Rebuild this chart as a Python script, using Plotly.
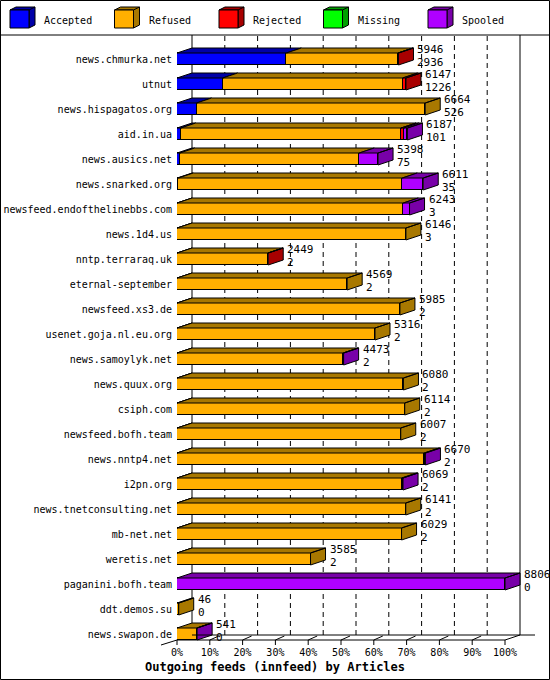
import plotly.graph_objects as go

# ---- data ----
hosts = [
    "news.chmurka.net", "utnut", "news.hispagatos.org", "aid.in.ua",
    "news.ausics.net", "news.snarked.org", "newsfeed.endofthelinebbs.com",
    "news.1d4.us", "nntp.terraraq.uk", "eternal-september", "newsfeed.xs3.de",
    "usenet.goja.nl.eu.org", "news.samoylyk.net", "news.quux.org", "csiph.com",
    "newsfeed.bofh.team", "news.nntp4.net", "i2pn.org", "news.tnetconsulting.net",
    "mb-net.net", "weretis.net", "paganini.bofh.team", "ddt.demos.su",
    "news.swapon.de",
]
offered = [5946, 6147, 6664, 6187, 5398, 6611, 6243, 6146, 2449, 4569, 5985, 5316,
           4473, 6080, 6114, 6007, 6670, 6069, 6141, 6029, 3585, 8806, 46, 541]
accepted = [2936, 1226, 526, 101, 75, 35, 3, 3, 2, 2, 2, 2,
            2, 2, 2, 2, 2, 2, 2, 2, 2, 0, 0, 0]
refused = [2995, 4831, 6138, 5912, 4819, 6014, 6073, 6143, 2437, 4567, 5983, 5314,
           4461, 6078, 6112, 6005, 6638, 6032, 6139, 6027, 3583, 0, 46, 529]
rejected = [15, 90, 0, 75, 0, 0, 0, 0, 10, 0, 0, 0,
            0, 0, 0, 0, 0, 0, 0, 0, 0, 0, 0, 0]
missing = [0, 0, 0, 0, 0, 0, 0, 0, 0, 0, 0, 0,
           0, 0, 0, 0, 0, 0, 0, 0, 0, 0, 0, 0]
spooled = [0, 0, 0, 99, 504, 562, 167, 0, 0, 0, 0, 0,
           10, 0, 0, 0, 30, 35, 0, 0, 0, 8806, 0, 12]

series_names = ["Accepted", "Refused", "Rejected", "Missing", "Spooled"]
series_values = [accepted, refused, rejected, missing, spooled]
face_colors = ["#0000FF", "#FFAF00", "#FF0000", "#00FF00", "#AF00FF"]
shade_colors = ["#0000A8", "#A87800", "#A80000", "#00A000", "#7800A8"]

pct_ticks = [0, 10, 20, 30, 40, 50, 60, 70, 80, 90, 100]

# ---- geometry ----
W, H = 550, 680
L, R, T, B = 177, 25, 35, 35
FULL_PX = 328          # pixel length of the 100% bar
DEPTH_X, DEPTH_Y = 15, 5
ROW_PX = 25
FIRST_ROW_PX = 59
FONT = "DejaVu Sans Mono"

n = len(hosts)
vmax = max(offered)
k = FULL_PX / vmax                     # px per article
plot_w = W - L - R
plot_h = H - T - B
dx = DEPTH_X / k                       # depth in data units
dy = DEPTH_Y / ROW_PX                  # depth in row units
bw = 12 / ROW_PX
h = bw / 2
rows = list(range(n))


def px(x):
    return (x - L) / plot_w


def py(y):
    return (H - B - y) / plot_h


fig = go.Figure()

# front faces
for name, vals, col in zip(series_names, series_values, face_colors):
    fig.add_trace(go.Bar(
        y=rows, x=[v if v > 0 else None for v in vals], orientation="h",
        width=bw, name=name, marker=dict(color=col, line=dict(color="black", width=1)),
        hoverinfo="skip",
    ))

# top and side faces
tops = {c: ([], []) for c in shade_colors}
for i in rows:
    cum = 0
    last = None
    for vals, sh in zip(series_values, shade_colors):
        v = vals[i]
        if v <= 0:
            continue
        xs, ys = tops[sh]
        xs += [cum, cum + v, cum + v + dx, cum + dx, cum, None]
        ys += [i - h, i - h, i - h - dy, i - h - dy, i - h, None]
        cum += v
        last = sh
    xs, ys = tops[last]
    xs += [cum, cum, cum + dx, cum + dx, cum, None]
    ys += [i - h, i + h, i + h - dy, i - h - dy, i - h, None]

for sh, (xs, ys) in tops.items():
    if xs:
        fig.add_trace(go.Scatter(
            x=xs, y=ys, mode="lines", fill="toself", fillcolor=sh,
            line=dict(color="black", width=1), hoverinfo="skip", showlegend=False,
        ))

# value labels
for i in rows:
    xl = offered[i] + dx
    fig.add_annotation(x=xl, y=i - 9.5 / ROW_PX, text=str(offered[i]), showarrow=False, xshift=2,
                       xanchor="left", yanchor="middle", font=dict(family=FONT, size=11, color="black"))
    fig.add_annotation(x=xl, y=i + 3 / ROW_PX, text=str(accepted[i]), showarrow=False, xshift=2,
                       xanchor="left", yanchor="middle", font=dict(family=FONT, size=11, color="black"))

shapes = []
line_k = dict(color="black", width=1)
floor_front = FIRST_ROW_PX + (n - 1) * ROW_PX + 6
floor_back = floor_front - DEPTH_Y

# back grid
for p in pct_ticks:
    xb = L + p / 100 * FULL_PX + DEPTH_X
    dash = "solid" if p in (0, 100) else "5px,4px"
    shapes.append(dict(type="line", xref="paper", yref="paper", x0=px(xb), x1=px(xb),
                       y0=py(floor_back), y1=py(T), line=dict(color="black", width=1, dash=dash),
                       layer="below"))
# floor
shapes.append(dict(type="line", xref="paper", yref="paper", x0=px(L + DEPTH_X), x1=px(L + FULL_PX + DEPTH_X + 15),
                   y0=py(floor_back), y1=py(floor_back), line=line_k))
shapes.append(dict(type="line", xref="paper", yref="paper", x0=px(L), x1=px(L + FULL_PX),
                   y0=py(floor_front), y1=py(floor_front), line=line_k))
shapes.append(dict(type="line", xref="paper", yref="paper", x0=px(L - 16), x1=px(L),
                   y0=py(floor_front + 5), y1=py(floor_front), line=line_k))
shapes.append(dict(type="line", xref="paper", yref="paper", x0=px(L + FULL_PX), x1=px(L + FULL_PX + DEPTH_X),
                   y0=py(floor_front), y1=py(floor_back), line=line_k))
for p in pct_ticks:
    xf = L + p / 100 * FULL_PX
    shapes.append(dict(type="line", xref="paper", yref="paper", x0=px(xf), x1=px(xf),
                       y0=py(floor_front), y1=py(floor_front + 5), line=line_k))
    if 0 < p < 100:
        shapes.append(dict(type="line", xref="paper", yref="paper", x0=px(xf), x1=px(xf + 9),
                           y0=py(floor_front), y1=py(floor_front - 4), line=line_k))

# legend (3D boxes)
for j, (name, col, sh) in enumerate(zip(series_names, face_colors, shade_colors)):
    x0 = 10 + 104.5 * j
    shapes.append(dict(type="path", xref="paper", yref="paper",
                       path=f"M {px(x0)},{py(10)} L {px(x0 + 6)},{py(7)} L {px(x0 + 25)},{py(7)} "
                            f"L {px(x0 + 25)},{py(25)} L {px(x0 + 19)},{py(28)} L {px(x0 + 19)},{py(10)} Z",
                       fillcolor=sh, line=dict(color="black", width=1)))
    shapes.append(dict(type="rect", xref="paper", yref="paper", x0=px(x0), x1=px(x0 + 19),
                       y0=py(28), y1=py(10), fillcolor=col, line=dict(color="black", width=1)))
    shapes.append(dict(type="line", xref="paper", yref="paper", x0=px(x0 + 19), x1=px(x0 + 25),
                       y0=py(10), y1=py(7), line=line_k))
    fig.add_annotation(xref="paper", yref="paper", x=px(x0 + 32), y=py(20), text=name,
                       showarrow=False, xanchor="left", yanchor="middle",
                       font=dict(family=FONT, size=10, color="black"))

# separator and frame
shapes.append(dict(type="line", xref="paper", yref="paper", x0=px(0), x1=px(W),
                   y0=py(T), y1=py(T), line=line_k))
shapes.append(dict(type="rect", xref="paper", yref="paper", x0=px(0.5), x1=px(W - 0.5),
                   y0=py(H - 0.5), y1=py(0.5), line=line_k))

fig.update_layout(
    width=W, height=H, margin=dict(l=L, r=R, t=T, b=B, pad=0, autoexpand=False),
    barmode="stack", showlegend=False, bargap=0,
    plot_bgcolor="white", paper_bgcolor="white",
    shapes=shapes,
    title=dict(text="<b>Outgoing feeds (innfeed) by Articles</b>", x=0.5, xanchor="center",
               y=1 - 667 / H, yanchor="middle", font=dict(family=FONT, size=12, color="black")),
    font=dict(family=FONT, size=10, color="black"),
)
fig.update_xaxes(range=[0, plot_w / k], tickvals=[p / 100 * vmax for p in pct_ticks],
                 ticktext=[f"{p}%" for p in pct_ticks], showgrid=False, zeroline=False,
                 showline=False, ticks="", automargin=False,
                 tickfont=dict(family=FONT, size=10, color="black"))
fig.update_yaxes(range=[(H - B - FIRST_ROW_PX) / ROW_PX, -(FIRST_ROW_PX - T) / ROW_PX],
                 tickvals=rows, ticktext=hosts, showgrid=False, zeroline=False,
                 showline=False, ticks="", ticklabelstandoff=4, automargin=False,
                 tickfont=dict(family=FONT, size=10, color="black"))

fig.write_html("out.html", config={"displayModeBar": False},
               post_script="document.body.style.margin='0';")
